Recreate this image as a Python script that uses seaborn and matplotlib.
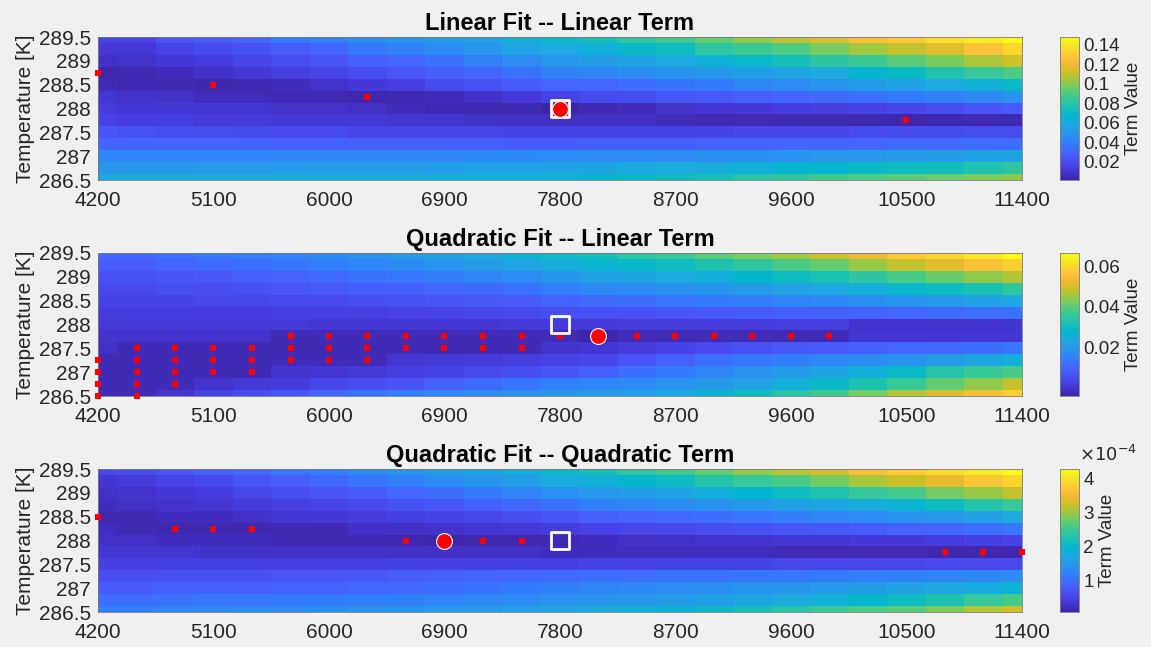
import numpy as np
import pandas as pd
import matplotlib
matplotlib.use("Agg")
import matplotlib.pyplot as plt
import seaborn as sns
from matplotlib.colors import LinearSegmentedColormap

# ---------------- data ----------------
wavelengths = [4200, 4500, 4800, 5100, 5400, 5700, 6000, 6300, 6600, 6900, 7200, 7500,
               7800, 8100, 8400, 8700, 9000, 9300, 9600, 9900, 10200, 10500, 10800, 11100, 11400]
temperatures = [289.5, 289.25, 289.0, 288.75, 288.5, 288.25, 288.0, 287.75, 287.5, 287.25,
                287.0, 286.75, 286.5]
x_ticks = [4200, 5100, 6000, 6900, 7800, 8700, 9600, 10500, 11400]
y_ticks = [289.5, 289.0, 288.5, 288.0, 287.5, 287.0, 286.5]

# Linear fit -- linear term (units of 1e-3)
lin_lin = [
    [16, 16, 23, 26, 30, 38, 41, 45, 50, 53, 56, 63, 70, 75, 82, 87, 94, 101, 109, 115, 123, 128, 138, 143, 148],
    [11, 11, 16, 19, 22, 26, 30, 38, 41, 45, 50, 56, 60, 63, 69, 72, 81, 85, 90, 97, 104, 110, 116, 126, 134],
    [7, 8, 11, 13, 17, 20, 23, 28, 30, 35, 41, 45, 51, 54, 57, 60, 64, 70, 75, 81, 85, 92, 98, 106, 112],
    [2, 3, 5, 8, 11, 14, 17, 20, 23, 28, 30, 35, 41, 42, 45, 48, 51, 54, 57, 60, 67, 70, 78, 84, 90],
    [5, 4, 3, 2, 3, 5, 8, 11, 14, 19, 22, 26, 30, 30, 33, 36, 38, 42, 45, 48, 53, 56, 60, 64, 70],
    [10, 8, 7, 5, 5, 4, 3, 2, 4, 5, 8, 11, 16, 19, 20, 23, 25, 28, 30, 32, 35, 38, 41, 44, 48],
    [13, 11, 11, 10, 10, 8, 8, 7, 5, 4, 3, 3, 1.2, 4, 5, 8, 10, 11, 13, 14, 16, 17, 20, 23, 26],
    [16, 14, 14, 13, 13, 11, 11, 11, 10, 10, 8, 8, 7, 8, 7, 5, 4, 4, 3, 3, 3, 2, 3, 4, 4],
    [23, 22, 20, 20, 19, 19, 19, 17, 17, 17, 17, 16, 16, 16, 16, 16, 16, 17, 17, 17, 19, 19, 19, 20, 20],
    [30, 30, 29, 29, 29, 28, 28, 28, 28, 28, 28, 26, 26, 28, 28, 28, 29, 29, 30, 30, 30, 32, 32, 33, 33],
    [42, 42, 42, 42, 42, 42, 42, 42, 42, 42, 44, 44, 45, 45, 45, 45, 47, 47, 48, 50, 51, 53, 54, 56, 57],
    [51, 51, 51, 53, 53, 53, 54, 54, 54, 54, 56, 56, 56, 57, 59, 60, 61, 63, 66, 67, 70, 72, 73, 78, 82],
    [60, 60, 60, 60, 60, 61, 61, 61, 61, 63, 63, 63, 64, 66, 69, 72, 75, 79, 82, 87, 90, 92, 95, 98, 101],
]

# Quadratic fit -- linear term (units of 1e-4)
quad_lin = [
    [100, 100, 114, 135, 149, 156, 170, 184, 206, 219, 241, 269, 298, 311, 347, 361, 396, 425, 453, 495, 523, 566, 594, 629, 665],
    [78, 78, 92, 107, 114, 127, 142, 156, 170, 184, 206, 219, 248, 269, 284, 298, 325, 347, 382, 403, 445, 481, 516, 551, 580],
    [57, 57, 64, 72, 86, 92, 107, 121, 127, 142, 156, 170, 192, 219, 227, 241, 255, 276, 298, 319, 347, 382, 410, 439, 467],
    [43, 43, 50, 50, 57, 64, 72, 78, 86, 100, 107, 121, 142, 163, 170, 178, 192, 206, 219, 233, 255, 284, 298, 319, 347],
    [29, 29, 29, 36, 36, 43, 43, 50, 57, 64, 72, 78, 92, 107, 114, 127, 135, 142, 156, 163, 178, 192, 206, 219, 233],
    [15, 15, 15, 15, 15, 21, 21, 21, 29, 29, 36, 43, 50, 57, 57, 64, 72, 78, 86, 86, 92, 100, 107, 114, 121],
    [8, 8, 8, 8, 8, 8, 1, 1, 1, 1, 1, 8, 8, 8, 15, 15, 15, 15, 21, 21, -6, -6, -6, -6, -6],
    [-6, -6, -6, -6, -6, -28, -28, -28, -28, -28, -28, -28, -28, -42, -28, -28, -28, -28, -28, -28, 1, 1, 1, 1, 1],
    [-14, -28, -28, -28, -28, -28, -28, -28, -28, -28, -28, -28, -6, 1, 15, 29, 43, 57, 72, 78, 86, 100, 107, 114, 127],
    [-28, -28, -28, -28, -28, -28, -28, -28, 1, 8, 15, 21, 29, 36, 64, 86, 114, 127, 142, 156, 170, 184, 206, 227, 255],
    [-28, -28, -28, -28, -28, -6, 1, 8, 21, 29, 43, 50, 64, 86, 114, 135, 156, 184, 206, 227, 255, 290, 333, 361, 382],
    [-28, -28, -28, -6, 8, 15, 36, 50, 64, 86, 107, 127, 149, 156, 170, 184, 206, 219, 255, 290, 325, 361, 403, 439, 481],
    [-28, -28, -6, 29, 50, 72, 100, 121, 142, 156, 170, 184, 198, 206, 219, 241, 269, 298, 333, 368, 417, 467, 509, 545, 580],
]

# Quadratic fit -- quadratic term (units of 1e-6)
quad_quad = [
    [57, 62, 70, 83, 91, 108, 116, 133, 146, 158, 167, 183, 204, 217, 238, 251, 272, 293, 314, 330, 356, 372, 393, 410, 427],
    [32, 41, 49, 57, 70, 83, 95, 108, 120, 133, 146, 158, 175, 183, 196, 209, 230, 246, 259, 280, 305, 322, 343, 368, 385],
    [24, 28, 36, 41, 53, 62, 70, 78, 91, 99, 112, 125, 141, 150, 158, 167, 183, 196, 209, 225, 242, 255, 280, 297, 318],
    [20, 24, 28, 32, 41, 45, 49, 57, 66, 74, 83, 91, 104, 120, 125, 133, 137, 150, 158, 167, 179, 192, 209, 230, 246],
    [11, 15, 20, 20, 24, 32, 36, 41, 45, 49, 53, 62, 70, 83, 87, 95, 99, 108, 116, 125, 133, 141, 150, 162, 175],
    [20, 15, 11, 11, 11, 15, 15, 24, 24, 28, 32, 36, 41, 49, 53, 57, 62, 66, 70, 74, 78, 87, 91, 99, 108],
    [24, 24, 20, 20, 20, 15, 15, 15, 11, 7, 11, 11, 15, 20, 24, 24, 28, 28, 32, 32, 36, 36, 41, 45, 49],
    [32, 32, 32, 28, 28, 28, 28, 28, 24, 24, 24, 24, 20, 20, 20, 20, 20, 20, 15, 15, 15, 15, 11, 11, 11],
    [45, 45, 45, 45, 45, 45, 45, 45, 45, 45, 45, 45, 45, 49, 49, 49, 49, 49, 53, 53, 53, 53, 57, 57, 57],
    [62, 62, 66, 66, 66, 70, 70, 74, 78, 83, 87, 91, 95, 99, 99, 104, 104, 108, 108, 112, 116, 120, 125, 129, 133],
    [78, 78, 83, 83, 83, 87, 87, 91, 95, 99, 104, 112, 120, 125, 129, 133, 137, 141, 146, 150, 158, 162, 171, 179, 188],
    [99, 99, 104, 108, 108, 112, 112, 116, 120, 125, 129, 133, 141, 146, 150, 154, 158, 167, 175, 183, 196, 209, 225, 242, 259],
    [120, 120, 125, 129, 133, 133, 137, 141, 146, 150, 154, 162, 167, 175, 183, 192, 204, 217, 230, 246, 259, 267, 284, 309, 326],
]

# candidate cells (small red squares)
lin_cand_x = [4200, 5100, 6300, 10500]
lin_cand_y = [288.75, 288.5, 288.25, 287.75]
qlin_cand_x = [4200, 4200, 4200, 4200,
               4500, 4500, 4500, 4500, 4500,
               4800, 4800, 4800, 4800,
               5100, 5100, 5100, 5400, 5400, 5400,
               5700, 5700, 5700, 6000, 6000, 6000, 6300, 6300, 6300,
               6600, 6600, 6900, 6900, 7200, 7200, 7500, 7500,
               7800, 8400, 8700, 9000, 9300, 9600, 9900]
qlin_cand_y = [287.25, 287.0, 286.75, 286.5,
               287.5, 287.25, 287.0, 286.75, 286.5,
               287.5, 287.25, 287.0, 286.75,
               287.5, 287.25, 287.0, 287.5, 287.25, 287.0,
               287.75, 287.5, 287.25, 287.75, 287.5, 287.25, 287.75, 287.5, 287.25,
               287.75, 287.5, 287.75, 287.5, 287.75, 287.5, 287.75, 287.5,
               287.75, 287.75, 287.75, 287.75, 287.75, 287.75, 287.75]
qq_cand_x = [4200, 4800, 5100, 5400, 6600, 7200, 7500, 10800, 11100, 11400]
qq_cand_y = [288.5, 288.25, 288.25, 288.25, 288.0, 288.0, 288.0, 287.75, 287.75, 287.75]

# best cells (big red circles) and reference cell (white square)
best_x = [7800, 8100, 6900]
best_y = [288.0, 287.75, 288.0]
ref_x, ref_y = 7800, 288.0

titles = ["Linear Fit -- Linear Term", "Quadratic Fit -- Linear Term",
          "Quadratic Fit -- Quadratic Term"]
scales = [1e-3, 1e-4, 1e-6]
cbar_ticks = [[0.02, 0.04, 0.06, 0.08, 0.10, 0.12, 0.14],
              [0.02, 0.04, 0.06],
              [1e-4, 2e-4, 3e-4, 4e-4]]
cbar_labels = [["0.02", "0.04", "0.06", "0.08", "0.1", "0.12", "0.14"],
               ["0.02", "0.04", "0.06"],
               ["1", "2", "3", "4"]]

# parula colormap
parula_rgb = [
    (0.2422, 0.1504, 0.6603), (0.2661, 0.2011, 0.8043), (0.2788, 0.2598, 0.9035),
    (0.2807, 0.3313, 0.9636), (0.2647, 0.4030, 0.9935), (0.2006, 0.4803, 0.9906),
    (0.1764, 0.5504, 0.9516), (0.1461, 0.6089, 0.9080), (0.1085, 0.6669, 0.8734),
    (0.0155, 0.7133, 0.8064), (0.0770, 0.7468, 0.7224), (0.1905, 0.7743, 0.6303),
    (0.2809, 0.7964, 0.5266), (0.4463, 0.8024, 0.3904), (0.6297, 0.7859, 0.2521),
    (0.7945, 0.7554, 0.1570), (0.9184, 0.7308, 0.1890), (0.9972, 0.7569, 0.2267),
    (0.9807, 0.8342, 0.1787), (0.9597, 0.9143, 0.1418), (0.9769, 0.9839, 0.0805),
]
parula = LinearSegmentedColormap.from_list("parula", parula_rgb, N=256)

# ---------------- plotting ----------------
sns.set_style("white")
plt.rcParams["font.family"] = ["Liberation Sans", "DejaVu Sans"]
TXT = "#262626"

W, H = 1151, 647
fig = plt.figure(figsize=(W / 100, H / 100), dpi=100, facecolor="#f0f0f0")


def rect(x0, y0, w, h):
    return [x0 / W, 1 - (y0 + h) / H, w / W, h / H]


def xpos(v):
    return [wavelengths.index(a) + 0.5 for a in v]


def ypos(v):
    return [temperatures.index(a) + 0.5 for a in v]


datasets = [lin_lin, quad_lin, quad_quad]
cands = [(lin_cand_x, lin_cand_y), (qlin_cand_x, qlin_cand_y), (qq_cand_x, qq_cand_y)]
tops = [37, 253, 469]

for i in range(3):
    df = pd.DataFrame(np.array(datasets[i], dtype=float) * scales[i],
                      index=temperatures, columns=wavelengths)
    ax = fig.add_axes(rect(98, tops[i], 924, 143))
    cax = fig.add_axes(rect(1060, tops[i], 19, 143))
    sns.heatmap(df, ax=ax, cbar_ax=cax, cmap=parula, xticklabels=False,
                yticklabels=False, linewidths=0, rasterized=True)
    ax.set_xlim(0.5, len(wavelengths) - 0.5)
    ax.set_ylim(len(temperatures) - 0.5, 0.5)
    ax.set_xticks(xpos(x_ticks))
    ax.set_xticklabels([str(v) for v in x_ticks])
    ax.set_yticks(ypos(y_ticks))
    ax.set_yticklabels([f"{v:g}" for v in y_ticks])
    ax.tick_params(axis="both", which="both", direction="in", length=4, width=0.6,
                   labelsize=15, colors=TXT, pad=5)
    ax.tick_params(axis="x", pad=8)
    ax.set_xlabel("")
    ax.set_ylabel("Temperature [K]", fontsize=15, color=TXT, labelpad=3)
    for s in ax.spines.values():
        s.set_visible(True)
        s.set_color("#7a7a7a")
        s.set_linewidth(0.6)
    ax.set_title(titles[i], fontsize=17, fontweight="bold", color="black", pad=5)

    # markers
    cx, cy = cands[i]
    ax.scatter(xpos(cx), ypos(cy), marker="s", s=20, color="#ff0000",
               linewidths=0, zorder=3, clip_on=False)
    ax.scatter(xpos([ref_x]), ypos([ref_y]), marker="s", s=150, facecolor="none",
               edgecolor="white", linewidths=2.0, zorder=4, clip_on=False)
    ax.scatter(xpos([best_x[i]]), ypos([best_y[i]]), marker="o", s=130,
               color="#ff0000", edgecolor="white", linewidths=0.8, zorder=5,
               clip_on=False)

    cbar = ax.collections[0].colorbar
    cbar.set_ticks(cbar_ticks[i])
    cbar.set_ticklabels(cbar_labels[i])
    cbar.ax.tick_params(direction="in", length=3, width=0.6, labelsize=13.5,
                        colors=TXT, pad=3)
    cbar.outline.set_edgecolor("#7a7a7a")
    cbar.outline.set_linewidth(0.6)
    cbar.set_label("Term Value", fontsize=13.5, color=TXT, labelpad=4)
    if i == 2:
        cax.text(1.0, 1.03, r"$\times10^{-4}$", transform=cax.transAxes,
                 ha="left", va="bottom", fontsize=13, color=TXT)

fig.savefig("out.png", dpi=100, facecolor=fig.get_facecolor())
